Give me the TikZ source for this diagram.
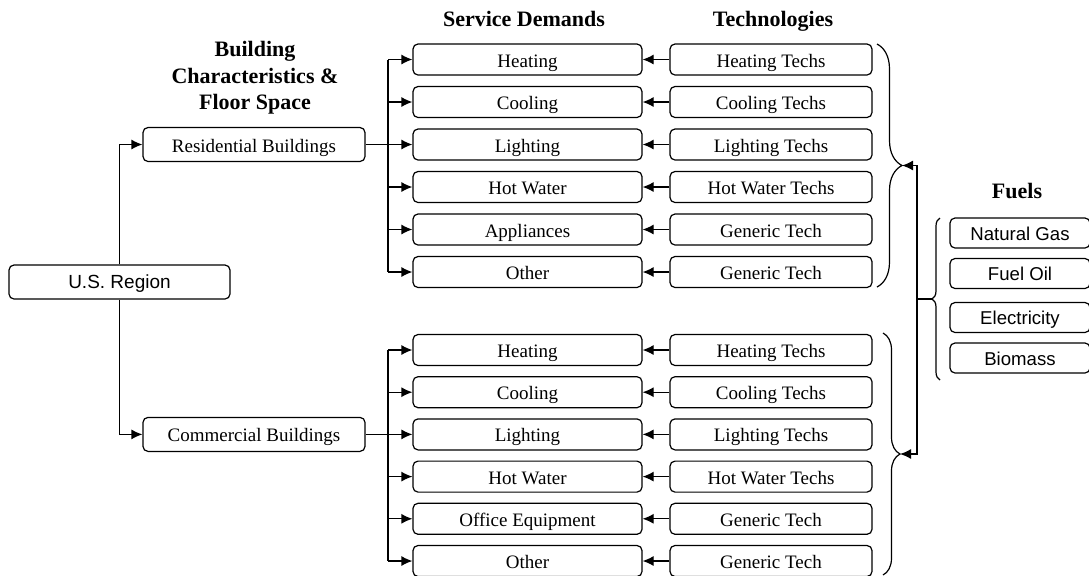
\documentclass[tikz,border=0pt]{standalone}
\usepackage{fontspec}
\setmainfont{Liberation Serif}
\newfontfamily\arialfont{Liberation Sans}
\usetikzlibrary{arrows.meta,decorations.pathreplacing}

\tikzset{
  box/.style={draw=black, line width=0.6pt, rounded corners=2.5pt, inner sep=0pt,
    minimum height=15.5pt, text height=9.3pt, text depth=1.8pt,
    font=\fontsize{9.5}{11}\selectfont},
  svcbox/.style={box, minimum width=114.5pt},
  techbox/.style={box, minimum width=101pt},
  bldbox/.style={box, minimum width=111pt, minimum height=17pt},
  fuelbox/.style={box, minimum width=70pt, minimum height=15pt,
    text height=8.8pt, font=\arialfont\fontsize{9.3}{11}\selectfont},
  head/.style={font=\fontsize{11}{13.2}\selectfont\bfseries, align=center},
  link/.style={line width=0.6pt},
  flow/.style={link, -{Latex[length=5.5pt,width=5pt]}},
  fbrace/.style={link, decorate, decoration={brace, amplitude=#1}},
}

\begin{document}
\begin{tikzpicture}[x=0.5pt, y=-0.5pt]

  % ── Layout ──────────────────────────────────────────────────────────
  \def\yR{59.5}   % first residential row
  \def\dyR{42.5}  % residential row spacing
  \def\yC{350}    % first commercial row
  \def\dyC{42.2}  % commercial row spacing
  \def\xbus{388}  % bus from building box to demands

  \useasboundingbox (0,0) rectangle (1089,575);

  % ── Column headings ─────────────────────────────────────────────────
  \node[head] (hbld) at (255,78) {Building\\Characteristics \&\\Floor Space};
  \node[head, anchor=base] (hsvc)  at (524,26)   {Service Demands};
  \node[head, anchor=base] (htech) at (773,26)   {Technologies};
  \node[head, anchor=base] (hfuel) at (1017,198) {Fuels};

  % ── Region and building types ───────────────────────────────────────
  \node[box, minimum width=110.5pt, minimum height=17pt, text height=8.4pt,
    font=\arialfont\fontsize{9.5}{11}\selectfont] (usr) at (119.5,282) {U.S. Region};
  \node[bldbox] (res) at (254,{\yR+2*\dyR}) {Residential Buildings};
  \node[bldbox] (com) at (254,{\yC+2*\dyC}) {Commercial Buildings};
  \draw[flow] (usr.north) |- (res);
  \draw[flow] (usr.south) |- (com);

  % ── Residential demands <- technologies ─────────────────────────────
  \foreach \svc/\tech [count=\i from 0] in {Heating/Heating Techs,
      Cooling/Cooling Techs, Lighting/Lighting Techs, Hot Water/Hot Water Techs,
      Appliances/Generic Tech, Other/Generic Tech} {
    \node[svcbox]  (rs\i) at (527.5,{\yR+\i*\dyR}) {\svc};
    \node[techbox] (rt\i) at (771,{\yR+\i*\dyR})   {\tech};
    \draw[flow] (rt\i) -- (rs\i);
  }
  \coordinate (rbus) at (\xbus,{\yR+2*\dyR});
  \draw[link] (res.east) -- (rbus);
  \draw[link] (rbus |- rs0) -- (rbus |- rs5);
  \foreach \i in {0,...,5}
    \draw[flow] (rbus |- rs\i) -- (rs\i.west);

  % ── Commercial demands <- technologies ──────────────────────────────
  \foreach \svc/\tech [count=\i from 0] in {Heating/Heating Techs,
      Cooling/Cooling Techs, Lighting/Lighting Techs, Hot Water/Hot Water Techs,
      Office Equipment/Generic Tech, Other/Generic Tech} {
    \node[svcbox]  (cs\i) at (527.5,{\yC+\i*\dyC}) {\svc};
    \node[techbox] (ct\i) at (771,{\yC+\i*\dyC})   {\tech};
    \draw[flow] (ct\i) -- (cs\i);
  }
  \coordinate (cbus) at (\xbus,{\yC+2*\dyC});
  \draw[link] (com.east) -- (cbus);
  \draw[link] (cbus |- cs0) -- (cbus |- cs5);
  \foreach \i in {0,...,5}
    \draw[flow] (cbus |- cs\i) -- (cs\i.west);

  % ── Fuels ───────────────────────────────────────────────────────────
  \foreach \fuel/\y [count=\i from 0] in {Natural Gas/233, Fuel Oil/273.5,
      Electricity/317.5, Biomass/358}
    \node[fuelbox] (fuel\i) at (1020,\y) {\fuel};

  % ── Braces and fuel supply lines ────────────────────────────────────
  \draw[fbrace=12.5pt] (877,44) -- (877,287);
  \draw[fbrace=8.5pt]  (883,333) -- (883,575);
  \draw[fbrace=4pt]    (940,380) -- (940,218);
  \coordinate (rtip) at (902,165.5);
  \coordinate (ctip) at (900,454);
  \coordinate (ftip) at (932,299);
  \coordinate (fbus) at (917,299);
  \draw[link] (ftip) -- (fbus);
  \draw[flow] (fbus) |- (rtip);
  \draw[flow] (fbus) |- (ctip);

\end{tikzpicture}
\end{document}
